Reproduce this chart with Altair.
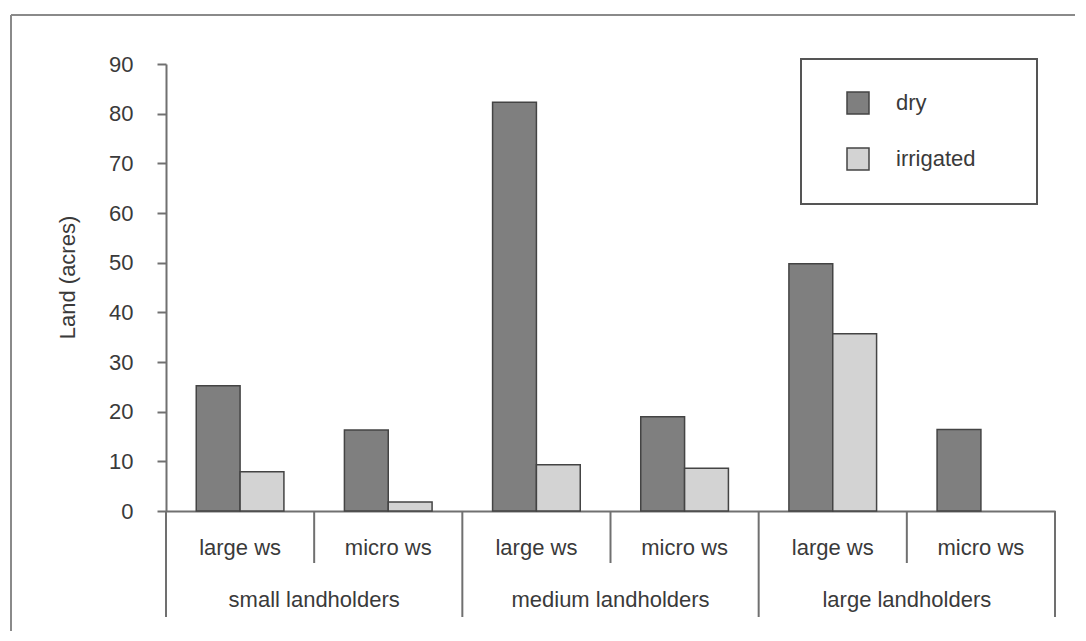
import altair as alt
import pandas as pd

# ---- data ----
groups = ["small landholders", "medium landholders", "large landholders"]
subs = ["large ws", "micro ws"]
series = ["dry", "irrigated"]
dry = [25.2, 16.3, 82.3, 19.0, 49.8, 16.4]
irrigated = [7.9, 1.8, 9.3, 8.6, 35.7, 0.0]
y_ticks = list(range(0, 100, 10))

keys = [f"{g}|{s}" for g in groups for s in subs]
sub_labels = [s for g in groups for s in subs]

bars = pd.DataFrame(
    [{"key": k, "series": "dry", "value": v} for k, v in zip(keys, dry)]
    + [{"key": k, "series": "irrigated", "value": v} for k, v in zip(keys, irrigated)]
)
subs_df = pd.DataFrame({"key": keys, "label": sub_labels,
                        "kind": ["group" if i % 2 == 0 else "inner" for i in range(len(keys))]})
grp_df = pd.DataFrame({"key": [keys[2 * i] for i in range(len(groups))], "label": groups})
end_df = pd.DataFrame({"key": [keys[-1]]})
one = pd.DataFrame({"a": [0]})

FONT = "Liberation Sans"
TXT = "#3a3a3a"
LINE = "#707070"

xenc = dict(field="key", type="nominal", sort=keys,
            scale=alt.Scale(paddingInner=0, paddingOuter=0))

frame_top = alt.Chart(one).mark_rule(color="#8a8a8a", strokeWidth=2).encode(
    x=alt.value(-155), x2=alt.value(930), y=alt.value(-49))
frame_left = alt.Chart(one).mark_rule(color="#8a8a8a", strokeWidth=2).encode(
    x=alt.value(-155), y=alt.value(-49), y2=alt.value(590))

bar = alt.Chart(bars).transform_filter("datum.value > 0").mark_bar(
    stroke="#444444", strokeWidth=1.5).encode(
    x=alt.X(**xenc),
    xOffset=alt.XOffset("series:N", sort=series,
                        scale=alt.Scale(domain=series, paddingInner=0, paddingOuter=0.69)),
    y=alt.Y("value:Q", scale=alt.Scale(domain=[0, 90], nice=False),
            axis=alt.Axis(values=y_ticks, title="Land (acres)", grid=False, tickSize=9,
                          labelPadding=24, titleX=-99, titleY=213, titleAngle=270,
                          titleAlign="center", titleBaseline="middle")),
    color=alt.Color("series:N", sort=series,
                    scale=alt.Scale(domain=series, range=["#7f7f7f", "#d3d3d3"]),
                    legend=alt.Legend(title=None, orient="none", legendX=680, legendY=27,
                                      symbolType="square", symbolSize=484,
                                      symbolStrokeColor="#444444", symbolStrokeWidth=1.5,
                                      labelFontSize=22, labelFont=FONT, labelColor=TXT,
                                      labelOffset=26, rowPadding=28, padding=0)),
)

rule_group = alt.Chart(subs_df).transform_filter("datum.kind == 'group'").mark_rule(
    color=LINE, strokeWidth=2).encode(
    x=alt.X(bandPosition=0, **xenc), y=alt.value(447), y2=alt.value(553))
rule_inner = alt.Chart(subs_df).transform_filter("datum.kind == 'inner'").mark_rule(
    color=LINE, strokeWidth=2).encode(
    x=alt.X(bandPosition=0, **xenc), y=alt.value(447), y2=alt.value(499))
rule_end = alt.Chart(end_df).mark_rule(color=LINE, strokeWidth=2).encode(
    x=alt.X(bandPosition=1, **xenc), y=alt.value(447), y2=alt.value(553))

sub_text = alt.Chart(subs_df).mark_text(fontSize=22, font=FONT, color=TXT, baseline="middle").encode(
    x=alt.X(**xenc), y=alt.value(484), text="label:N")
grp_text = alt.Chart(grp_df).mark_text(fontSize=22, font=FONT, color=TXT, baseline="middle").encode(
    x=alt.X(bandPosition=1, **xenc), y=alt.value(536), text="label:N")

legend_box = alt.Chart(one).mark_rect(filled=False, stroke="#555555", strokeWidth=2).encode(
    x=alt.value(635), x2=alt.value(871), y=alt.value(-5), y2=alt.value(140))

chart = alt.layer(frame_top, frame_left, bar, rule_group, rule_inner, rule_end,
                  sub_text, grp_text, legend_box).properties(
    width=889, height=447,
    autosize=alt.AutoSizeParams(type="none"),
    padding={"left": 158, "top": 56, "right": 20, "bottom": 120},
).configure_view(stroke=None).configure_axisX(
    labels=False, ticks=False, title=None, grid=False, domainColor=LINE, domainWidth=2
).configure_axisY(
    domainColor=LINE, domainWidth=2, tickColor=LINE, tickWidth=2,
    labelFont=FONT, labelFontSize=22, labelColor=TXT,
    titleFont=FONT, titleFontSize=22, titleColor=TXT, titleFontWeight="normal"
)

chart.save("out.html", embed_options={"renderer": "svg", "actions": False})
